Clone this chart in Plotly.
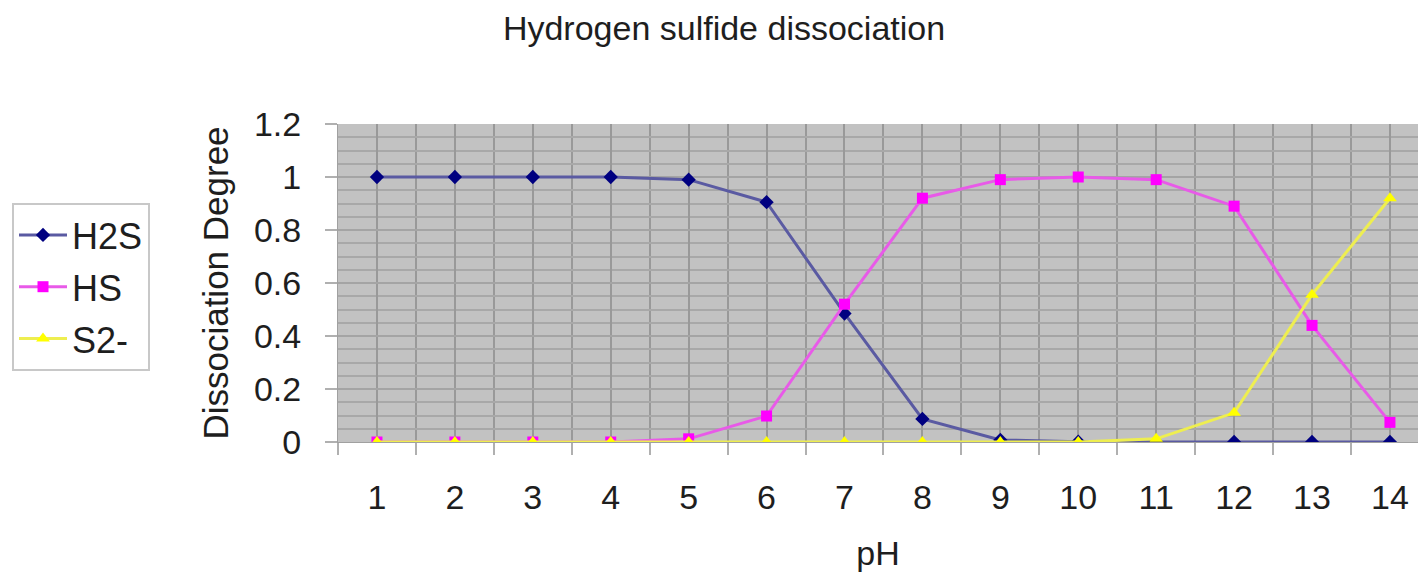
import plotly.graph_objects as go

pH = list(range(1, 15))
h2s = [1.0, 1.0, 1.0, 1.0, 0.99, 0.905, 0.485, 0.087, 0.008, 0.001, 0.0, 0.0, 0.0, 0.0]
hs = [0.0, 0.0, 0.0, 0.0, 0.012, 0.098, 0.52, 0.92, 0.99, 1.0, 0.99, 0.89, 0.44, 0.074]
s2 = [0.0, 0.0, 0.0, 0.0, 0.0, 0.0, 0.0, 0.0, 0.0, 0.0, 0.012, 0.11, 0.556, 0.92]
series_names = ["H2S", "HS", "S2-"]
tick_labels = [str(v) for v in pH]

FONT = "Liberation Sans, Arial, sans-serif"
TXT = "#1e1e1e"

fig = go.Figure()
styles = [
    (h2s, "#5a5aa2", "#000080", "diamond", 11),
    (hs, "#e85ae8", "#ff00ff", "square", 11),
    (s2, "#eeee50", "#ffff00", "triangle-up", 12),
]
for name, (vals, lc, mc, sym, ms) in zip(series_names, styles):
    fig.add_trace(go.Scatter(
        x=pH, y=vals, name=name, mode="lines+markers",
        legendgroup=name,
        line=dict(color=lc, width=3),
        marker=dict(color=mc, symbol=sym, size=ms, line=dict(width=0)),
    ))

fig.update_layout(
    width=1418, height=587,
    margin=dict(l=338, r=0, t=124, b=145),
    paper_bgcolor="white",
    plot_bgcolor="#c2c2c2",
    font=dict(family=FONT, color=TXT),
    title=dict(text="Hydrogen sulfide dissociation", x=724 / 1418, xanchor="center",
               y=1 - 28 / 587, yanchor="middle", font=dict(size=34, family=FONT, color=TXT)),
    showlegend=True,
    legend=dict(
        x=(12 - 338) / 1080, y=(442 - 203) / 318, xanchor="left", yanchor="top",
        bgcolor="white", bordercolor="#c8c8c8", borderwidth=2,
        font=dict(size=36, family=FONT, color=TXT),
        tracegroupgap=2, itemwidth=48,
    ),
)

fig.update_xaxes(
    range=[0.5, 14.36],
    tickmode="array", tickvals=pH, ticktext=tick_labels,
    ticks="", showgrid=True, gridcolor="#999999", gridwidth=2,
    tickfont=dict(size=34, family=FONT, color=TXT),
    ticklabelstandoff=25,
    minor=dict(tick0=0.5, dtick=1, ticks="outside", ticklen=12, tickcolor="#b0b0b0",
               tickwidth=2, showgrid=True, gridcolor="#999999", gridwidth=2),
    showline=True, linecolor="#a0a0a0", linewidth=1,
    zeroline=False,
    title=dict(text="pH", font=dict(size=34, family=FONT, color=TXT), standoff=26),
)

fig.update_yaxes(
    range=[0, 1.2], tickmode="array", tickvals=[0, 0.2, 0.4, 0.6, 0.8, 1, 1.2],
    ticktext=["0", "0.2", "0.4", "0.6", "0.8", "1", "1.2"],
    ticks="outside", ticklen=12, tickcolor="#b0b0b0", tickwidth=2,
    showgrid=True, gridcolor="#a4a4a4", gridwidth=2,
    minor=dict(dtick=0.05, showgrid=True, gridcolor="#a8a8a8", gridwidth=2),
    tickfont=dict(size=34, family=FONT, color=TXT),
    ticklabelstandoff=17,
    showline=True, linecolor="#a0a0a0", linewidth=1,
    zeroline=False,
    title=dict(text="Dissociation Degree", font=dict(size=35, family=FONT, color=TXT), standoff=14),
)

fig.write_html("out.html")
